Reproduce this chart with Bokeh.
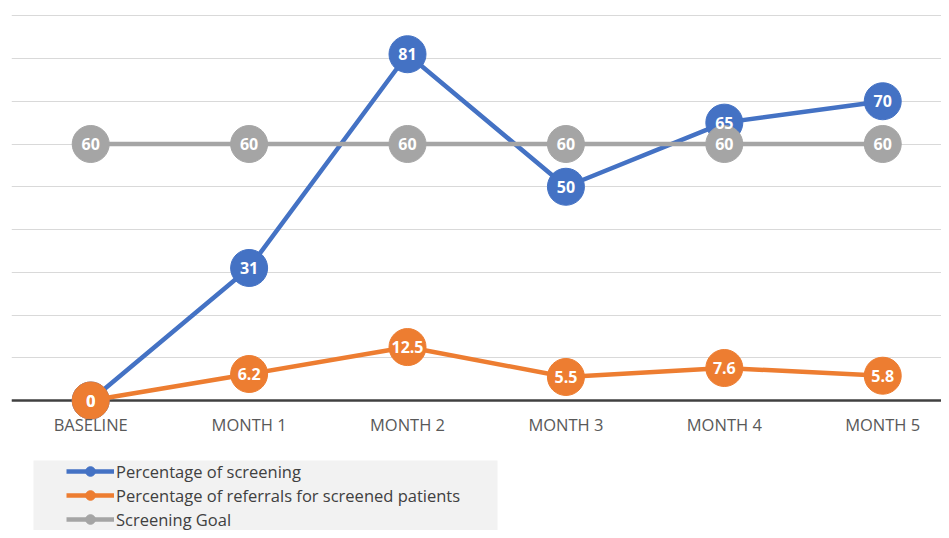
from bokeh.plotting import figure
from bokeh.models import FixedTicker, Legend, LegendItem, BoxAnnotation, Span
from bokeh.core.properties import value
from bokeh.embed import file_html
from bokeh.resources import INLINE

categories = ["BASELINE", "MONTH 1", "MONTH 2", "MONTH 3", "MONTH 4", "MONTH 5"]
screening = [0, 31, 81, 50, 65, 70]
referrals = [0, 6.2, 12.5, 5.5, 7.6, 5.8]
goal = [60, 60, 60, 60, 60, 60]
grid_ticks = [0, 10, 20, 30, 40, 50, 60, 70, 80, 90]
series_names = ["Percentage of screening",
                "Percentage of referrals for screened patients",
                "Screening Goal"]
colors = ["#4472C4", "#ED7D31", "#A5A5A5"]

FONT = "Open Sans"
xs = list(range(len(categories)))

p = figure(width=941, height=530, output_backend="svg", toolbar_location=None,
           x_range=(-0.5, 5.371), y_range=(-30.41, 93.57),
           min_border_left=11, min_border_right=0, min_border_top=0,
           min_border_bottom=0)
p.outline_line_color = None
p.background_fill_color = "white"
p.border_fill_color = "white"

p.xgrid.visible = False
p.yaxis.ticker = FixedTicker(ticks=grid_ticks)
p.yaxis.visible = False
p.ygrid.grid_line_color = "#D9D9D9"
p.ygrid.grid_line_width = 1

ax = p.xaxis[0]
ax.fixed_location = 0
ax.ticker = FixedTicker(ticks=xs)
ax.major_label_overrides = {i: c for i, c in enumerate(categories)}
ax.axis_line_color = None
ax.major_tick_line_color = None
ax.minor_tick_line_color = None
ax.major_tick_out = 0
ax.major_tick_in = 0
ax.minor_tick_out = 0
ax.major_label_standoff = 12
ax.major_label_text_font = FONT
ax.major_label_text_font_size = "16.5px"
ax.major_label_text_color = "#595959"

base = Span(location=0, dimension="width", line_color="#404040", line_width=2.5,
            level="underlay")
p.add_layout(base)

bg = BoxAnnotation(left=33, right=497, top=460, bottom=560,
                   left_units="canvas", right_units="canvas",
                   top_units="canvas", bottom_units="canvas",
                   fill_color="#F2F2F2", fill_alpha=1, line_color=None,
                   level="underlay")
p.add_layout(bg)

items = []
for vals, col, name in zip([screening, referrals, goal], colors, series_names):
    ln = p.line(xs, vals, line_color=col, line_width=4.5)
    sc = p.scatter(xs, vals, size=37, fill_color=col, line_color=col)
    items.append(LegendItem(label=name, renderers=[ln, sc]))

for vals in [screening, referrals, goal]:
    p.text(xs, vals, text=[f"{v:g}" for v in vals], text_color="white",
           text_font=value(FONT), text_font_style="bold", text_font_size="16px",
           text_align="center", text_baseline="middle")

legend = Legend(items=items, location=(55, -1), orientation="vertical",
                padding=0, spacing=0, margin=0, glyph_width=48, glyph_height=24,
                label_standoff=2, label_height=24,
                label_text_font=FONT, label_text_font_size="16.5px",
                label_text_color="#404040",
                background_fill_alpha=0, border_line_alpha=0)
p.add_layout(legend)

open("out.html", "w").write(file_html(p, INLINE))
